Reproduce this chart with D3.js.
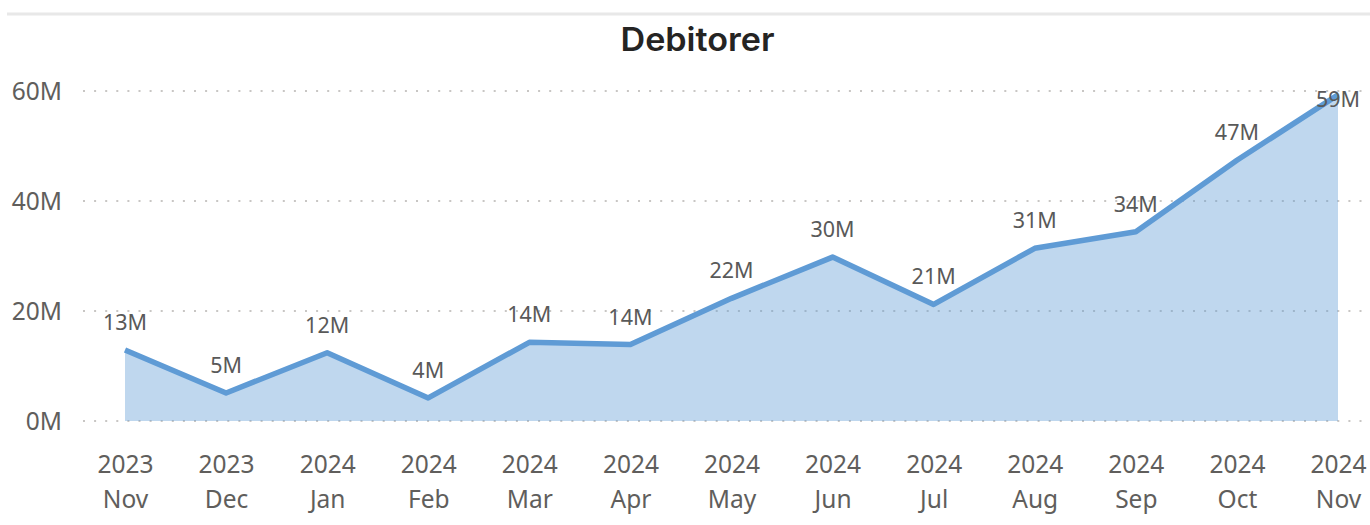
<!DOCTYPE html>
<html>
<head>
<meta charset="utf-8">
<script src="https://cdn.jsdelivr.net/npm/d3@7"></script>
<style>
  html, body { margin: 0; padding: 0; background: #ffffff; }
  svg { display: block; }
</style>
</head>
<body>
<svg id="chart" width="1370" height="525"></svg>
<script>
// ---- data ----
const years = ["2023","2023","2024","2024","2024","2024","2024","2024","2024","2024","2024","2024","2024"];
const months = ["Nov","Dec","Jan","Feb","Mar","Apr","May","Jun","Jul","Aug","Sep","Oct","Nov"];
const values = [12.9, 5.1, 12.4, 4.2, 14.3, 13.9, 22.3, 29.8, 21.2, 31.4, 34.4, 47.4, 59.3]; // millions
const yTicks = [0, 20, 40, 60];
const yTickLabels = ["0M", "20M", "40M", "60M"];
const title = "Debitorer";

const keys = months.map((m, i) => years[i] + " " + m + " " + i);
const data = values.map((v, i) => ({ key: keys[i], year: years[i], month: months[i], value: v }));

const svg = d3.select("#chart");
const W = 1370;

const x = d3.scalePoint().domain(keys).range([125, 1338]);
const y = d3.scaleLinear().domain([0, 60]).range([421, 91]);

const FONT = "'Segoe UI', 'Noto Sans', 'Open Sans', sans-serif";

// top separator line
svg.append("rect").attr("x", 7).attr("y", 12.5).attr("width", W - 7).attr("height", 3).attr("fill", "#e8e8e8");

// title
svg.append("text")
  .attr("x", 697.5).attr("y", 51)
  .attr("text-anchor", "middle")
  .attr("font-family", "Inter, 'DejaVu Sans', sans-serif")
  .attr("font-weight", 600)
  .attr("font-size", 32)
  .attr("fill", "#252423")
  .attr("textLength", 154)
  .attr("lengthAdjust", "spacingAndGlyphs")
  .text(title);

// gridlines
const grid = svg.append("g");
grid.selectAll("line").data(yTicks).join("line")
  .attr("x1", 83).attr("x2", W)
  .attr("y1", d => y(d)).attr("y2", d => y(d))
  .attr("stroke", "#c8c6c4")
  .attr("stroke-width", 2)
  .attr("stroke-dasharray", "2 9.1");

// y axis labels
const yAxis = d3.axisLeft(y).tickValues(yTicks).tickSize(0).tickPadding(0)
  .tickFormat((d, i) => yTickLabels[i]);
const yg = svg.append("g").attr("transform", "translate(62,0)").call(yAxis);
yg.select(".domain").remove();
yg.selectAll("text")
  .attr("font-family", FONT).attr("font-size", 24.5).attr("fill", "#605e5c")
  .attr("dy", "0.36em");

// x axis labels (two lines)
const xAxis = d3.axisBottom(x).tickSize(0).tickFormat(() => "");
const xg = svg.append("g").attr("transform", "translate(0,421)").call(xAxis);
xg.select(".domain").remove();
xg.selectAll(".tick text").remove();
xg.selectAll(".tick").each(function(d, i) {
  const t = d3.select(this).append("text")
    .attr("text-anchor", "middle")
    .attr("font-family", FONT).attr("font-size", 24.5).attr("fill", "#605e5c");
  t.append("tspan").attr("x", 0).attr("y", 52).text(years[i]);
  t.append("tspan").attr("x", 0).attr("y", 87).text(months[i]);
});

// area
const area = d3.area().x(d => x(d.key)).y0(y(0)).y1(d => y(d.value));
svg.append("path").datum(data)
  .attr("d", area)
  .attr("fill", "#5f9bd5").attr("fill-opacity", 0.4);

// line
const line = d3.line().x(d => x(d.key)).y(d => y(d.value));
svg.append("path").datum(data)
  .attr("d", line)
  .attr("fill", "none")
  .attr("stroke", "#5f9bd5")
  .attr("stroke-width", 5.5)
  .attr("stroke-linejoin", "round");

// data labels
svg.append("g").selectAll("text").data(data).join("text")
  .attr("x", d => x(d.key))
  .attr("y", d => Math.max(y(d.value) - 20, y(60) + 16))
  .attr("text-anchor", "middle")
  .attr("font-family", FONT).attr("font-size", 21.5).attr("fill", "#595959")
  .text(d => Math.round(d.value) + "M");
</script>
</body>
</html>
